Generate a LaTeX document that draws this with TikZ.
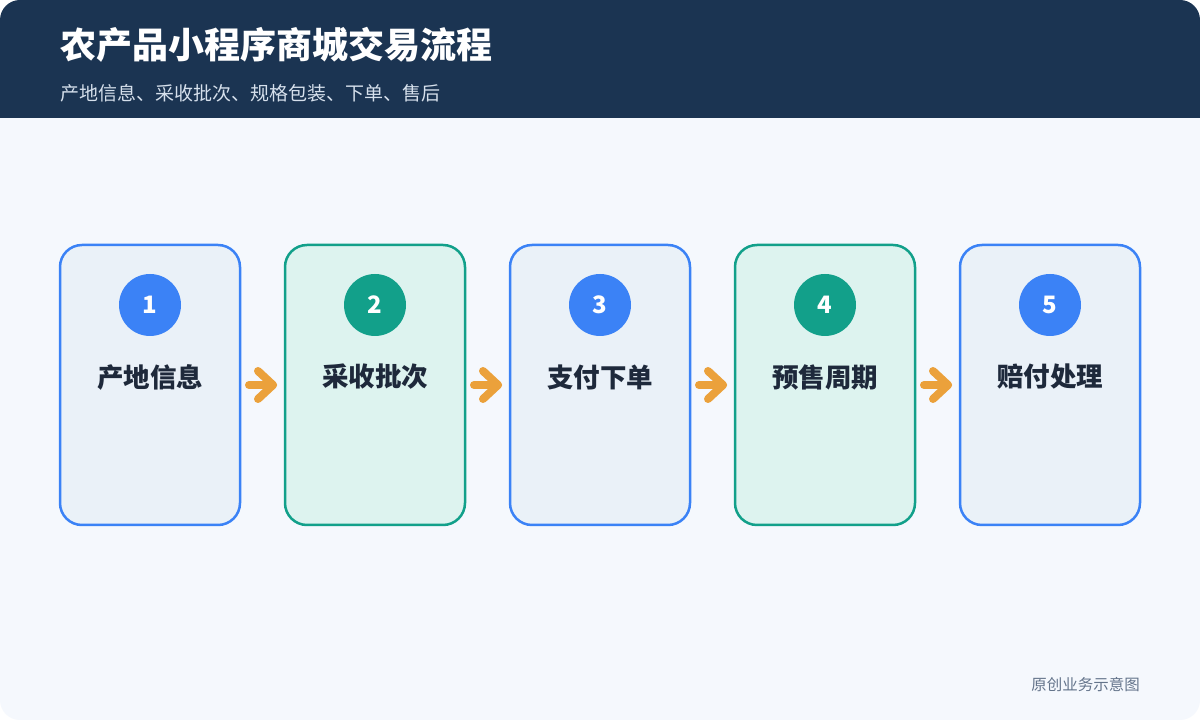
\documentclass[tikz,border=0pt]{standalone}
\usepackage{fontspec}
\setmainfont{Noto Sans CJK SC}
\usetikzlibrary{shapes.geometric, arrows}
\definecolor{pagebg}{HTML}{F5F8FD}
\definecolor{headbg}{HTML}{1B3452}
\definecolor{subtxt}{HTML}{D6E0EC}
\definecolor{bluec}{HTML}{3B82F6}
\definecolor{bluefill}{HTML}{EAF1F8}
\definecolor{tealc}{HTML}{12A08A}
\definecolor{tealfill}{HTML}{DDF3EF}
\definecolor{darktxt}{HTML}{1E293B}
\definecolor{greytxt}{HTML}{64748B}
\definecolor{orangec}{HTML}{EBA13B}
\tikzstyle{stage} = [rectangle, rounded corners=22pt, minimum width=180pt, minimum height=280pt, outer sep=0pt, line width=2.5pt, draw=bluec, fill=bluefill]
\tikzstyle{stagealt} = [stage, draw=tealc, fill=tealfill]
\tikzstyle{badge} = [circle, minimum size=62pt, inner sep=0pt, fill=bluec, text=white, font=\fontsize{24}{28}\selectfont\bfseries]
\tikzstyle{badgealt} = [badge, fill=tealc]
\tikzstyle{caption} = [rectangle, inner sep=0pt, text=darktxt, font=\fontsize{26.5}{30}\selectfont\bfseries]
\tikzstyle{chev} = [line width=8pt, line cap=round, line join=round, draw=orangec]

\begin{document}
\begin{tikzpicture}[x=1pt, y=1pt, node distance=225pt]
    \useasboundingbox (0,0) rectangle (1200,720);
    \fill [white] (0,0) rectangle (1200,720);
    \begin{scope}
        \clip [rounded corners=20pt] (0,0) rectangle (1200,720);
        \fill [pagebg] (0,0) rectangle (1200,720);
        \fill [headbg] (0,602) rectangle (1200,720);
    \end{scope}
    \node (title) [anchor=west, inner sep=0pt, text=white, font=\fontsize{36}{42}\selectfont\bfseries] at (60,675) {农产品小程序商城交易流程};
    \node (subtitle) [anchor=west, inner sep=0pt, text=subtxt, font=\fontsize{19}{23}\selectfont] at (60,627) {产地信息、采收批次、规格包装、下单、售后};

    \node (s1) [stage] at (150,335) {};
    \node (s2) [stagealt, right of=s1] {};
    \node (s3) [stage, right of=s2] {};
    \node (s4) [stagealt, right of=s3] {};
    \node (s5) [stage, right of=s4] {};

    \node (n1) [badge] at ([yshift=80pt]s1.center) {1};
    \node (n2) [badgealt] at ([yshift=80pt]s2.center) {2};
    \node (n3) [badge] at ([yshift=80pt]s3.center) {3};
    \node (n4) [badgealt] at ([yshift=80pt]s4.center) {4};
    \node (n5) [badge] at ([yshift=80pt]s5.center) {5};

    \node (t1) [caption] at ([yshift=8pt]s1.center) {产地信息};
    \node (t2) [caption] at ([yshift=8pt]s2.center) {采收批次};
    \node (t3) [caption] at ([yshift=8pt]s3.center) {支付下单};
    \node (t4) [caption] at ([yshift=8pt]s4.center) {预售周期};
    \node (t5) [caption] at ([yshift=8pt]s5.center) {赔付处理};

    \draw [chev] ([xshift=9pt]s1.east) -- ([xshift=-12pt]s2.west);
    \draw [chev] ([shift={(-27pt,14pt)}]s2.west) -- ([xshift=-12pt]s2.west) -- ([shift={(-27pt,-14pt)}]s2.west);
    \draw [chev] ([xshift=9pt]s2.east) -- ([xshift=-12pt]s3.west);
    \draw [chev] ([shift={(-27pt,14pt)}]s3.west) -- ([xshift=-12pt]s3.west) -- ([shift={(-27pt,-14pt)}]s3.west);
    \draw [chev] ([xshift=9pt]s3.east) -- ([xshift=-12pt]s4.west);
    \draw [chev] ([shift={(-27pt,14pt)}]s4.west) -- ([xshift=-12pt]s4.west) -- ([shift={(-27pt,-14pt)}]s4.west);
    \draw [chev] ([xshift=9pt]s4.east) -- ([xshift=-12pt]s5.west);
    \draw [chev] ([shift={(-27pt,14pt)}]s5.west) -- ([xshift=-12pt]s5.west) -- ([shift={(-27pt,-14pt)}]s5.west);

    \node (note) [anchor=east, inner sep=0pt, text=greytxt, font=\fontsize{15.5}{18}\selectfont] at (1140,35) {原创业务示意图};
\end{tikzpicture}
\end{document}
